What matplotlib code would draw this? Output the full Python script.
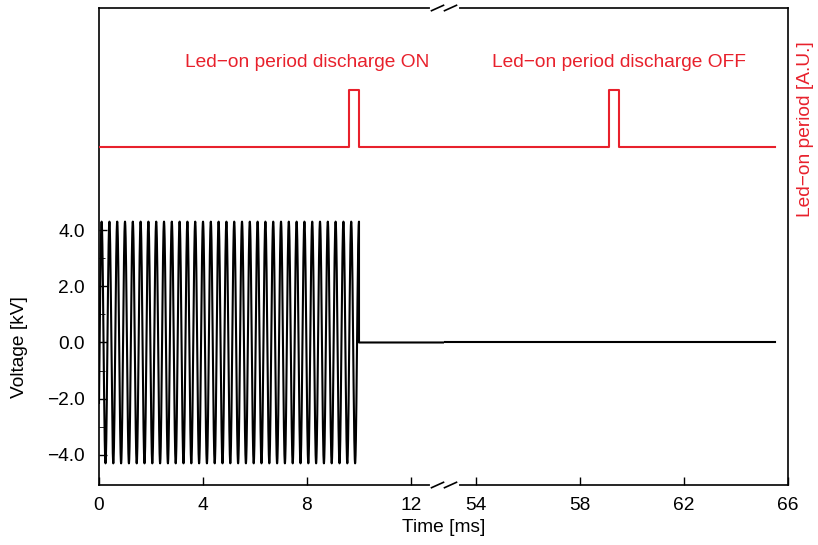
import numpy as np
import matplotlib
matplotlib.use('Agg')
import matplotlib.pyplot as plt

plt.rcParams['font.family'] = ['Liberation Sans', 'DejaVu Sans']
plt.rcParams['font.size'] = 13.8

# --- data ---
# high-voltage drive: sine burst, then off
v_amplitude = 4.3        # kV
v_period = 0.3           # ms
v_burst_end = 10.0       # ms (burst ends on a positive peak)
t_end = 65.5             # ms

# LED-on timing signal (arbitrary units)
led_t = [0.0, 9.6, 9.6, 10.0, 10.0, 59.1, 59.1, 59.5, 59.5, 65.5]
led_v = [0, 0, 1, 1, 0, 0, 1, 1, 0, 0]

left_xlim = (0, 13.25)
right_xlim = (52.75, 66)
left_xticks = [0, 4, 8, 12]
right_xticks = [54, 58, 62, 66]
v_ticks = [-4, -2, 0, 2, 4]
v_ticklabels = ['\u22124.0', '\u22122.0', '0.0', '2.0', '4.0']

annot_on = 'Led\u2212on period discharge ON'
annot_off = 'Led\u2212on period discharge OFF'

red = '#e8212c'

# waveform built from the read amplitude / period
t_burst = np.linspace(0, v_burst_end, 4000)
v_burst = v_amplitude * np.cos(2 * np.pi * (t_burst - v_burst_end) / v_period)
t_volt = np.concatenate([t_burst, [v_burst_end, t_end]])
v_volt = np.concatenate([v_burst, [0.0, 0.0]])

fig = plt.figure(figsize=(8.18, 5.45), dpi=100)
W, H = 818, 545
L, R, B, T = 99 / W, 788 / W, 1 - 485 / H, 1 - 8 / H
wl = (left_xlim[1] - left_xlim[0])
wr = (right_xlim[1] - right_xlim[0])
split = L + (R - L) * wl / (wl + wr)
ax1 = fig.add_axes([L, B, split - L, T - B])
ax2 = fig.add_axes([split, B, R - split, T - B], sharey=ax1)

ylim_v = (-5.07, 11.9)
ylim_led = (-5.93, 2.44)

for ax, xl, xt in [(ax1, left_xlim, left_xticks), (ax2, right_xlim, right_xticks)]:
    ax.plot(t_volt, v_volt, color='black', lw=1.5)
    ax.set_xlim(*xl)
    ax.set_xticks(xt)
    ax.set_ylim(*ylim_v)
    ax.tick_params(direction='in', length=6, width=1, top=False, right=False, pad=9)
    ax.tick_params(axis='y', which='minor', direction='in', length=4)
    axr = ax.twinx()
    axr.plot(led_t, led_v, color=red, lw=1.5)
    axr.set_ylim(*ylim_led)
    axr.set_yticks([])
    for s in axr.spines.values():
        s.set_visible(False)
    if ax is ax1:
        ax1r = axr
    else:
        ax2r = axr

ax1.set_yticks(v_ticks)
ax1.set_yticklabels(v_ticklabels)
ax1.set_yticks(np.arange(-3, 4, 2), minor=True)
ax1.tick_params(axis='y', pad=10)
ax2.tick_params(axis='y', which='both', left=False, labelleft=False)
ax1.spines['right'].set_visible(False)
ax2.spines['left'].set_visible(False)
for ax in (ax1, ax2):
    for s in ax.spines.values():
        s.set_linewidth(1.2)

fig.text(20 / W, 1 - 347 / H, 'Voltage [kV]', rotation=90, ha='center', va='center')
fig.text(split, 1 - 527 / H, 'Time [ms]', ha='center', va='center')

ax1r.text(8.0, 1.49, annot_on, color=red, ha='center', va='center')
ax2r.text(59.5, 1.49, annot_off, color=red, ha='center', va='center')
fig.text(806 / W, 1 - 129 / H, 'Led\u2212on period [A.U.]', color=red,
         rotation=90, ha='center', va='center')

# axis break marks on top and bottom spines
bx = split * W
for yp in (8, 485):
    yf = 1 - yp / H
    fig.add_artist(plt.Line2D([(bx - 12) / W, (bx + 13) / W], [yf, yf],
                              color='white', lw=3, transform=fig.transFigure))
    for x0 in (bx - 12, bx + 1):
        fig.add_artist(plt.Line2D([x0 / W, (x0 + 12) / W], [yf - 2.7 / H, yf + 2.7 / H],
                                  color='black', lw=1.2, transform=fig.transFigure))

fig.savefig('out.png', dpi=100)
